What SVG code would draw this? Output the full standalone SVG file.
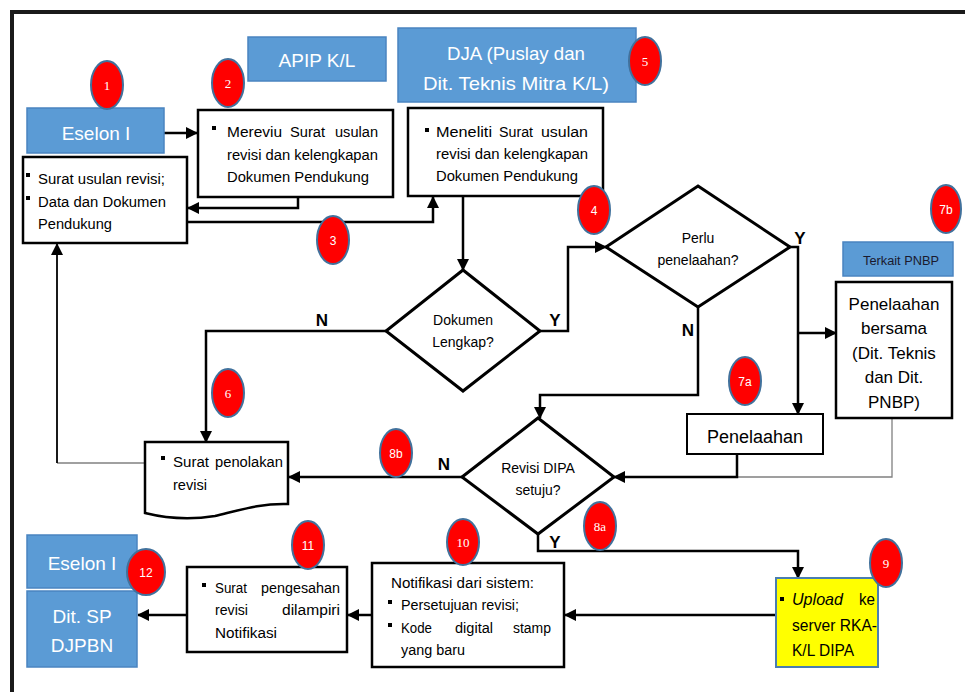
<svg xmlns="http://www.w3.org/2000/svg" width="965" height="692" viewBox="0 0 965 692">
<defs>
<marker id="ah" markerUnits="userSpaceOnUse" markerWidth="12" markerHeight="12" refX="11" refY="6" orient="auto">
<path d="M0,0 L12,6 L0,12 z" fill="#000"/>
</marker>
<style>
.blue{fill:#5B9BD5;stroke:#4A84C0;stroke-width:1.5}
.box{fill:#fff;stroke:#000;stroke-width:2.5}
.dia{fill:#fff;stroke:#000;stroke-width:3}
.bw{font-family:"Liberation Sans",Arial,sans-serif;fill:#fff;font-size:19px;text-anchor:middle}
.t{font-family:"Liberation Sans",Arial,sans-serif;fill:#000;font-size:14px}
.tc{font-family:"Liberation Sans",Arial,sans-serif;fill:#000;font-size:14px;text-anchor:middle}
.tl{font-family:"Liberation Sans",Arial,sans-serif;fill:#000;font-size:17px;text-anchor:middle}
.lb{font-family:"Liberation Sans",Arial,sans-serif;fill:#000;font-size:17px;font-weight:bold;text-anchor:middle}
.bd{fill:#FF0000;stroke:#41719C;stroke-width:2}
.bn{font-family:"Liberation Serif","Times New Roman",serif;fill:#fff;font-size:13px;text-anchor:middle}
.bs{font-family:"Liberation Sans",Arial,sans-serif;fill:#fff;font-size:12px;text-anchor:middle}
.c{fill:none;stroke:#000;stroke-width:2.5}
.cg{fill:none;stroke:#808080;stroke-width:1.3}
</style>
</defs>
<rect width="965" height="692" fill="#fff"/>
<g id="frame">
<path d="M10,12 H965 M12,10 V692" stroke="#1a1a1a" stroke-width="4" fill="none"/>
</g>

<g id="connectors">
<path class="c" d="M164,133 H197" marker-end="url(#ah)"/>
<path class="c" d="M298,197 V208 H188" marker-end="url(#ah)"/>
<path class="c" d="M187,222 H433 V197" marker-end="url(#ah)"/>
<path class="c" d="M463,196 V270" marker-end="url(#ah)"/>
<path class="c" d="M386,331 H206 V442" marker-end="url(#ah)"/>
<path class="c" d="M540,331 H568 V247 H606" marker-end="url(#ah)"/>
<path class="c" d="M790,247 H798 V414" marker-end="url(#ah)"/>
<path class="c" d="M798,333 H836" marker-end="url(#ah)"/>
<path class="c" d="M698,307 V395 H540 V418" marker-end="url(#ah)"/>
<path class="cg" d="M892,418 V477 H737"/>
<path class="c" d="M737,454 V477 H614" marker-end="url(#ah)"/>
<path class="c" d="M462,477 H289" marker-end="url(#ah)"/>
<path class="cg" d="M145,463 H57"/>
<path fill="none" stroke="#000" stroke-width="1.8" d="M57,463 V244" marker-end="url(#ah)"/>
<path class="c" d="M538,534 V551 H798 V578" marker-end="url(#ah)"/>
<path class="c" d="M776,615 H565" marker-end="url(#ah)"/>
<path class="c" d="M372,615 H348" marker-end="url(#ah)"/>
<path class="c" d="M187,615 H138" marker-end="url(#ah)"/>
</g>

<g id="eselon1-top">
<rect class="blue" x="27" y="108" width="137" height="45"/>
<text class="bw" x="96" y="140">Eselon I</text>
</g>

<g id="apip">
<rect class="blue" x="248" y="37" width="138" height="44"/>
<text class="bw" x="317" y="67">APIP K/L</text>
</g>

<g id="dja">
<rect class="blue" x="398" y="28" width="238" height="74"/>
<text class="bw" x="516" y="60" textLength="138" lengthAdjust="spacingAndGlyphs">DJA (Puslay dan</text>
<text class="bw" x="516" y="90" textLength="186" lengthAdjust="spacingAndGlyphs">Dit. Teknis Mitra K/L)</text>
</g>

<g id="usulan">
<rect class="box" x="23" y="157" width="164" height="86"/>
<rect x="26" y="173" width="4" height="4" fill="#000"/>
<text class="t" x="38" y="184" textLength="127" lengthAdjust="spacingAndGlyphs">Surat usulan revisi;</text>
<rect x="26" y="196" width="4" height="4" fill="#000"/>
<text class="t" x="38" y="207" textLength="128" lengthAdjust="spacingAndGlyphs">Data dan Dokumen</text>
<text class="t" x="38" y="229" textLength="74" lengthAdjust="spacingAndGlyphs">Pendukung</text>
</g>

<g id="mereviu">
<rect class="box" x="198" y="110" width="195" height="87"/>
<rect x="212" y="126" width="4" height="4" fill="#000"/>
<text class="t" x="227" y="137" textLength="55" lengthAdjust="spacingAndGlyphs">Mereviu</text>
<text class="t" x="290" y="137" textLength="35" lengthAdjust="spacingAndGlyphs">Surat</text>
<text class="t" x="335" y="137" textLength="43" lengthAdjust="spacingAndGlyphs">usulan</text>
<text class="t" x="227" y="160" textLength="151" lengthAdjust="spacingAndGlyphs">revisi dan kelengkapan</text>
<text class="t" x="227" y="182" textLength="142" lengthAdjust="spacingAndGlyphs">Dokumen Pendukung</text>
</g>

<g id="meneliti">
<rect class="box" x="408" y="108" width="195" height="88"/>
<rect x="425" y="128" width="4" height="4" fill="#000"/>
<text class="t" x="436" y="137" textLength="56" lengthAdjust="spacingAndGlyphs">Meneliti</text>
<text class="t" x="499" y="137" textLength="34" lengthAdjust="spacingAndGlyphs">Surat</text>
<text class="t" x="541" y="137" textLength="47" lengthAdjust="spacingAndGlyphs">usulan</text>
<text class="t" x="436" y="159" textLength="152" lengthAdjust="spacingAndGlyphs">revisi dan kelengkapan</text>
<text class="t" x="436" y="181" textLength="142" lengthAdjust="spacingAndGlyphs">Dokumen Pendukung</text>
</g>

<g id="dokumen-lengkap">
<polygon class="dia" points="463,270 540,331 463,391 386,331"/>
<text class="tc" x="463" y="325">Dokumen</text>
<text class="tc" x="463" y="347">Lengkap?</text>
</g>

<g id="perlu">
<polygon class="dia" points="698,186 790,247 698,307 606,247"/>
<text class="tc" x="698" y="243">Perlu</text>
<text class="tc" x="698" y="265">penelaahan?</text>
</g>

<g id="terkait">
<rect class="blue" x="843" y="242" width="110" height="34"/>
<text class="tc" x="901" y="265" style="font-size:12.5px;fill:#1a1a2e" textLength="76" lengthAdjust="spacingAndGlyphs">Terkait PNBP</text>
</g>

<g id="bersama">
<rect class="box" x="836" y="282" width="116" height="136"/>
<text class="tl" x="894" y="310">Penelaahan</text>
<text class="tl" x="894" y="334">bersama</text>
<text class="tl" x="894" y="359">(Dit. Teknis</text>
<text class="tl" x="894" y="383">dan Dit.</text>
<text class="tl" x="894" y="408">PNBP)</text>
</g>

<g id="penelaahan">
<rect class="box" x="687" y="414" width="136" height="40" style="stroke-width:2"/>
<text class="tl" x="755" y="443" style="font-size:18px">Penelaahan</text>
</g>

<g id="revisi-dipa">
<polygon class="dia" points="538,418 614,477 538,534 462,477"/>
<text class="tc" x="538" y="473">Revisi DIPA</text>
<text class="tc" x="538" y="495">setuju?</text>
</g>

<g id="penolakan">
<path class="box" d="M145,442 H288 V504 C262,503 240,510 215,516 C190,520 165,518 145,513 Z"/>
<rect x="161" y="456" width="4" height="4" fill="#000"/>
<text class="t" x="173" y="467" textLength="36" lengthAdjust="spacingAndGlyphs">Surat</text>
<text class="t" x="215" y="467" textLength="68" lengthAdjust="spacingAndGlyphs">penolakan</text>
<text class="t" x="173" y="490" textLength="34" lengthAdjust="spacingAndGlyphs">revisi</text>
</g>

<g id="upload">
<rect x="776" y="578" width="102" height="89" fill="#FFFF00" stroke="#4A7EB0" stroke-width="2"/>
<rect x="780" y="597" width="4" height="4" fill="#000"/>
<text class="t" x="792" y="605" style="font-size:17px;font-style:italic" textLength="51" lengthAdjust="spacingAndGlyphs">Upload</text>
<text class="t" x="859" y="605" style="font-size:17px" textLength="16" lengthAdjust="spacingAndGlyphs">ke</text>
<text class="t" x="792" y="631" style="font-size:17px" textLength="85" lengthAdjust="spacingAndGlyphs">server RKA-</text>
<text class="t" x="792" y="656" style="font-size:17px" textLength="62" lengthAdjust="spacingAndGlyphs">K/L DIPA</text>
</g>

<g id="notifikasi">
<rect class="box" x="372" y="563" width="192" height="104"/>
<text class="t" x="391" y="588" textLength="143" lengthAdjust="spacingAndGlyphs">Notifikasi dari sistem:</text>
<rect x="388" y="600" width="4" height="4" fill="#000"/>
<text class="t" x="401" y="610" textLength="118" lengthAdjust="spacingAndGlyphs">Persetujuan revisi;</text>
<rect x="388" y="623" width="4" height="4" fill="#000"/>
<text class="t" x="401" y="633" textLength="31" lengthAdjust="spacingAndGlyphs">Kode</text>
<text class="t" x="455" y="633" textLength="38" lengthAdjust="spacingAndGlyphs">digital</text>
<text class="t" x="513" y="633" textLength="38" lengthAdjust="spacingAndGlyphs">stamp</text>
<text class="t" x="401" y="655" textLength="64" lengthAdjust="spacingAndGlyphs">yang baru</text>
</g>

<g id="pengesahan">
<rect class="box" x="187" y="567" width="160" height="85"/>
<rect x="202" y="583" width="4" height="4" fill="#000"/>
<text class="t" x="215" y="593" textLength="32" lengthAdjust="spacingAndGlyphs">Surat</text>
<text class="t" x="261" y="593" textLength="79" lengthAdjust="spacingAndGlyphs">pengesahan</text>
<text class="t" x="215" y="615" textLength="33" lengthAdjust="spacingAndGlyphs">revisi</text>
<text class="t" x="282" y="615" textLength="58" lengthAdjust="spacingAndGlyphs">dilampiri</text>
<text class="t" x="215" y="638" textLength="62" lengthAdjust="spacingAndGlyphs">Notifikasi</text>
</g>

<g id="eselon1-bottom">
<rect class="blue" x="27" y="535" width="110" height="53"/>
<text class="bw" x="82" y="570">Eselon I</text>
</g>

<g id="ditsp">
<rect class="blue" x="27" y="591" width="110" height="76"/>
<text class="bw" x="82" y="623">Dit. SP</text>
<text class="bw" x="82" y="652">DJPBN</text>
</g>

<g id="badges">
<ellipse class="bd" cx="107" cy="85" rx="16" ry="24"/><text class="bn" x="107" y="90">1</text>
<ellipse class="bd" cx="228" cy="83" rx="16" ry="24"/><text class="bn" x="228" y="88">2</text>
<ellipse class="bd" cx="333" cy="240" rx="16" ry="24"/><text class="bs" x="333" y="245">3</text>
<ellipse class="bd" cx="594" cy="210" rx="16" ry="24"/><text class="bs" x="594" y="215">4</text>
<ellipse class="bd" cx="645" cy="61" rx="16" ry="24"/><text class="bn" x="645" y="66">5</text>
<ellipse class="bd" cx="228" cy="393" rx="16" ry="24"/><text class="bn" x="228" y="398">6</text>
<ellipse class="bd" cx="745" cy="381" rx="16" ry="24"/><text class="bs" x="745" y="386">7a</text>
<ellipse class="bd" cx="946" cy="209" rx="15" ry="24"/><text class="bs" x="946" y="214">7b</text>
<ellipse class="bd" cx="600" cy="526" rx="16" ry="24"/><text class="bn" x="600" y="531">8a</text>
<ellipse class="bd" cx="396" cy="453" rx="16" ry="24"/><text class="bs" x="396" y="458">8b</text>
<ellipse class="bd" cx="886" cy="563" rx="16" ry="24"/><text class="bn" x="886" y="568">9</text>
<ellipse class="bd" cx="463" cy="542" rx="16" ry="23"/><text class="bn" x="463" y="547">10</text>
<ellipse class="bd" cx="308" cy="545" rx="16" ry="24"/><text class="bs" x="308" y="550">11</text>
<ellipse class="bd" cx="146" cy="572" rx="19" ry="23"/><text class="bs" x="146" y="577">12</text>
</g>

<g id="labels">
<text class="lb" x="322" y="326">N</text>
<text class="lb" x="555" y="326">Y</text>
<text class="lb" x="800" y="244">Y</text>
<text class="lb" x="688" y="336">N</text>
<text class="lb" x="444" y="470">N</text>
<text class="lb" x="555" y="548">Y</text>
</g>
</svg>
